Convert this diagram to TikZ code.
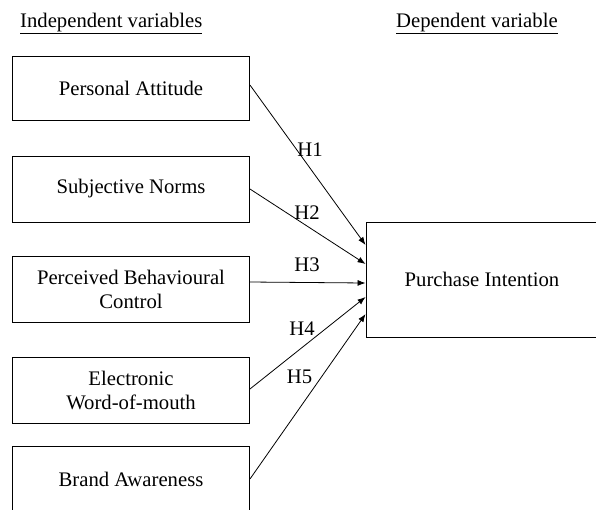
\documentclass[tikz,border=0pt]{standalone}
\usepackage{fontspec}
\setmainfont{Liberation Serif}
\usetikzlibrary{arrows.meta,calc}
\begin{document}
\begin{tikzpicture}[x=1pt,y=-1pt,
  txt/.style={font=\fontsize{20.7}{24}\selectfont},
  varbox/.style={draw,line width=0.9pt,txt,align=center,inner sep=0pt,
    minimum width=237pt,minimum height=66pt},
  link/.style={line width=0.8pt,-{Latex[length=8pt,width=6pt]}},
  hlabel/.style={txt,inner sep=0pt}]
\useasboundingbox (0,0) rectangle (596,509);
\begin{scope}
\clip (0,0) rectangle (596,509);
% headings
\node[txt,anchor=base west,inner sep=0pt] (hind) at (20,27) {\underline{Independent variables}};
\node[txt,anchor=base west,inner sep=0pt] (hdep) at (396,27) {\underline{Dependent variable}};
% independent variables
\node[varbox,minimum height=64pt] (pa) at (131,88) {Personal Attitude};
\node[varbox] (sn) at (131,189) {Subjective Norms};
\node[varbox] (pbc) at (131,289) {Perceived Behavioural\\Control};
\node[varbox] (ewom) at (131,390) {Electronic\\Word-of-mouth};
\node[varbox] (ba) at (131,479) {Brand Awareness};
% dependent variable
\node[varbox,minimum width=232pt,minimum height=115pt] (pi) at (482,279.5) {Purchase Intention};
% hypotheses
\draw[link] ($(pa.east)+(0,-3)$) -- ($(pi.west)+(0,-34.5)$);
\draw[link] (sn.east) -- ($(pi.west)+(0,-15.5)$);
\draw[link] ($(pbc.east)+(0,-7)$) -- ($(pi.west)+(0,3.5)$);
\draw[link] ($(ewom.east)+(0,-1)$) -- ($(pi.west)+(0,17.5)$);
\draw[link] (ba.east) -- ($(pi.west)+(0,34.5)$);
\node[hlabel] (h1) at (310,150) {H1};
\node[hlabel] (h2) at (307,213) {H2};
\node[hlabel] (h3) at (307,265) {H3};
\node[hlabel] (h4) at (302,329) {H4};
\node[hlabel] (h5) at (299.5,377) {H5};
\end{scope}
\end{tikzpicture}
\end{document}
